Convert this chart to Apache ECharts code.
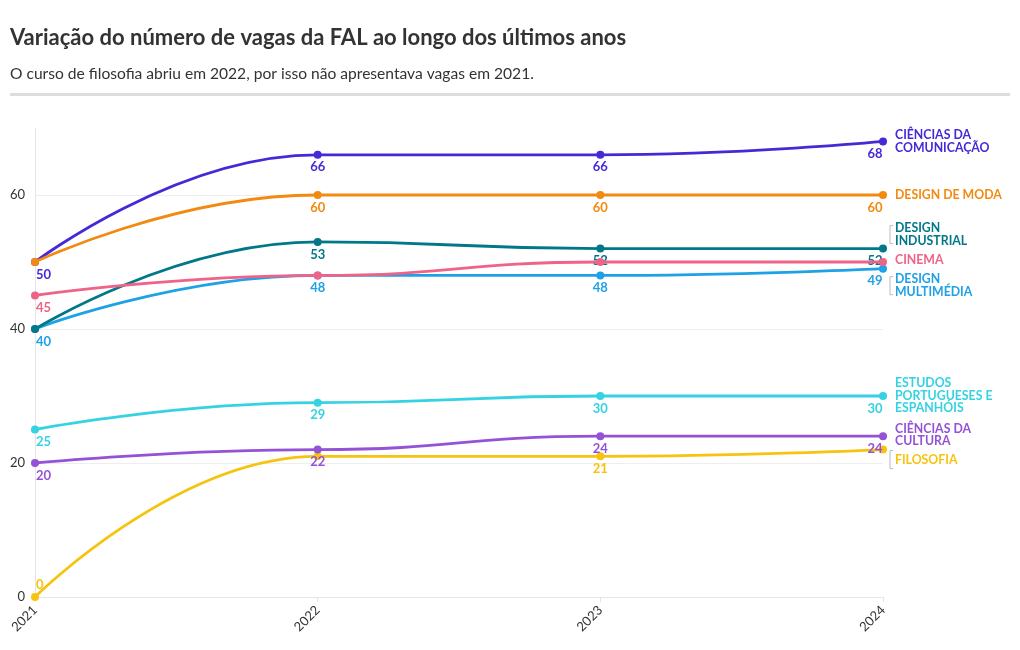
<!DOCTYPE html>
<html>
<head>
<meta charset="utf-8">
<script src="https://cdn.jsdelivr.net/npm/echarts@6/dist/echarts.min.js"></script>
<style>
html,body{margin:0;padding:0;background:#fff;}
#c{width:1020px;height:650px;}
</style>
</head>
<body>
<div id="c"></div>
<script>
const years = ['2021', '2022', '2023', '2024'];
const names = ['Ciências da Comunicação', 'Design de Moda', 'Design Multimédia', 'Design Industrial', 'Cinema', 'Estudos Portugueses e Espanhóis', 'Filosofia', 'Ciências da Cultura'];
const endLabels = ['CIÊNCIAS DA\nCOMUNICAÇÃO', 'DESIGN DE MODA', 'DESIGN\nMULTIMÉDIA', 'DESIGN\nINDUSTRIAL', 'CINEMA', 'ESTUDOS\nPORTUGUESES E\nESPANHÓIS', 'FILOSOFIA', 'CIÊNCIAS DA\nCULTURA'];
const comunicacao = [50, 66, 66, 68];
const moda = [50, 60, 60, 60];
const multimedia = [40, 48, 48, 49];
const industrial = [40, 53, 52, 52];
const cinema = [45, 48, 50, 50];
const estudos = [25, 29, 30, 30];
const filosofia = [0, 21, 21, 22];
const cultura = [20, 22, 24, 24];
const values = [comunicacao, moda, multimedia, industrial, cinema, estudos, filosofia, cultura];
const yTicks = [0, 20, 40, 60];

// styling
const colors = ['#4629d6', '#f28a12', '#1fa1e6', '#00788a', '#ef6389', '#35d2e2', '#f6c410', '#9452d6'];
const endOffsets = [0, 0, 17, -14, -2, 0, 10, -1];
// which value labels are hidden (overlap avoidance), per series index
const hiddenLabels = {1: [0], 3: [0], 4: [1, 2, 3], 6: [1, 3]};

const chart = echarts.init(document.getElementById('c'), null, {renderer: 'canvas'});
const FONT = 'Lato';

const series = values.map((vals, si) => ({
  name: names[si],
  type: 'line',
  smooth: 0.5,
  smoothMonotone: 'x',
  symbol: 'circle',
  symbolSize: 8,
  showSymbol: true,
  z: 2 + si,
  lineStyle: {width: 2.8, color: colors[si]},
  itemStyle: {color: colors[si]},
  emphasis: {disabled: true},
  data: vals.map((v, i) => {
    const hide = (hiddenLabels[si] || []).includes(i);
    const lab = {
      show: !hide,
      position: v === 0 ? 'top' : 'bottom',
      distance: 2,
      color: colors[si],
      fontFamily: FONT,
      fontWeight: 'bold',
      fontSize: 13
    };
    if (i === 0) { lab.align = 'left'; lab.offset = [1, 0]; }
    if (i === vals.length - 1) { lab.offset = [-8, 0]; }
    return {value: v, label: lab};
  }),
  endLabel: {
    show: true,
    formatter: endLabels[si],
    color: colors[si],
    fontFamily: FONT,
    fontWeight: 'bold',
    fontSize: 12.3,
    lineHeight: 12.5,
    distance: 12,
    offset: [0, endOffsets[si]]
  }
}));

const sepBar = {type: 'rect', shape: {x: 10, y: 93, width: 1000, height: 3}, style: {fill: '#dddddd'}, silent: true};

chart.setOption({
  animation: false,
  backgroundColor: '#fff',
  title: [
    {text: 'Variação do número de vagas da FAL ao longo dos últimos anos', left: 10, top: 27, padding: 0,
      textStyle: {fontFamily: FONT, fontWeight: 'bold', fontSize: 22, color: '#333'}},
    {text: 'O curso de filosofia abriu em 2022, por isso não apresentava vagas em 2021.', left: 10, top: 66, padding: 0,
      textStyle: {fontFamily: FONT, fontWeight: 'normal', fontSize: 15.6, color: '#333'}}
  ],
  graphic: [sepBar],
  grid: {left: 35, right: 137, top: 128, bottom: 53},
  xAxis: {
    type: 'category',
    data: years,
    boundaryGap: false,
    axisLine: {show: true, lineStyle: {color: '#e6e6e6'}},
    axisTick: {show: true, alignWithLabel: true, length: 5, lineStyle: {color: '#e6e6e6'}},
    axisLabel: {rotate: 45, color: '#333', fontFamily: FONT, fontSize: 13, margin: 11},
    splitLine: {show: false}
  },
  yAxis: {
    type: 'value',
    min: 0,
    max: 70,
    interval: 20,
    axisLine: {show: true, lineStyle: {color: '#e6e6e6'}},
    axisTick: {show: false},
    axisLabel: {color: '#333', fontFamily: FONT, fontSize: 13, margin: 10, showMaxLabel: false,
      formatter: v => yTicks.includes(v) ? String(v) : ''},
    splitLine: {show: true, showMaxLine: false, lineStyle: {color: '#eeeeee'}}
  },
  series: series
});

// small connector brackets next to shifted end labels
const g = [];
const lastIdx = years.length - 1;
values.forEach((vals, si) => {
  const off = endOffsets[si];
  if (Math.abs(off) < 3) return;
  const p = chart.convertToPixel({gridIndex: 0}, [lastIdx, vals[lastIdx]]);
  const x = p[0] + 7;
  g.push({type: 'polyline', silent: true,
    shape: {points: [[x + 3, p[1] + off - 9], [x, p[1] + off - 9], [x, p[1] + off + 9], [x + 3, p[1] + off + 9]]},
    style: {stroke: '#bbbbbb', lineWidth: 1, fill: null}});
});
chart.setOption({graphic: [sepBar].concat(g)});
</script>
</body>
</html>
